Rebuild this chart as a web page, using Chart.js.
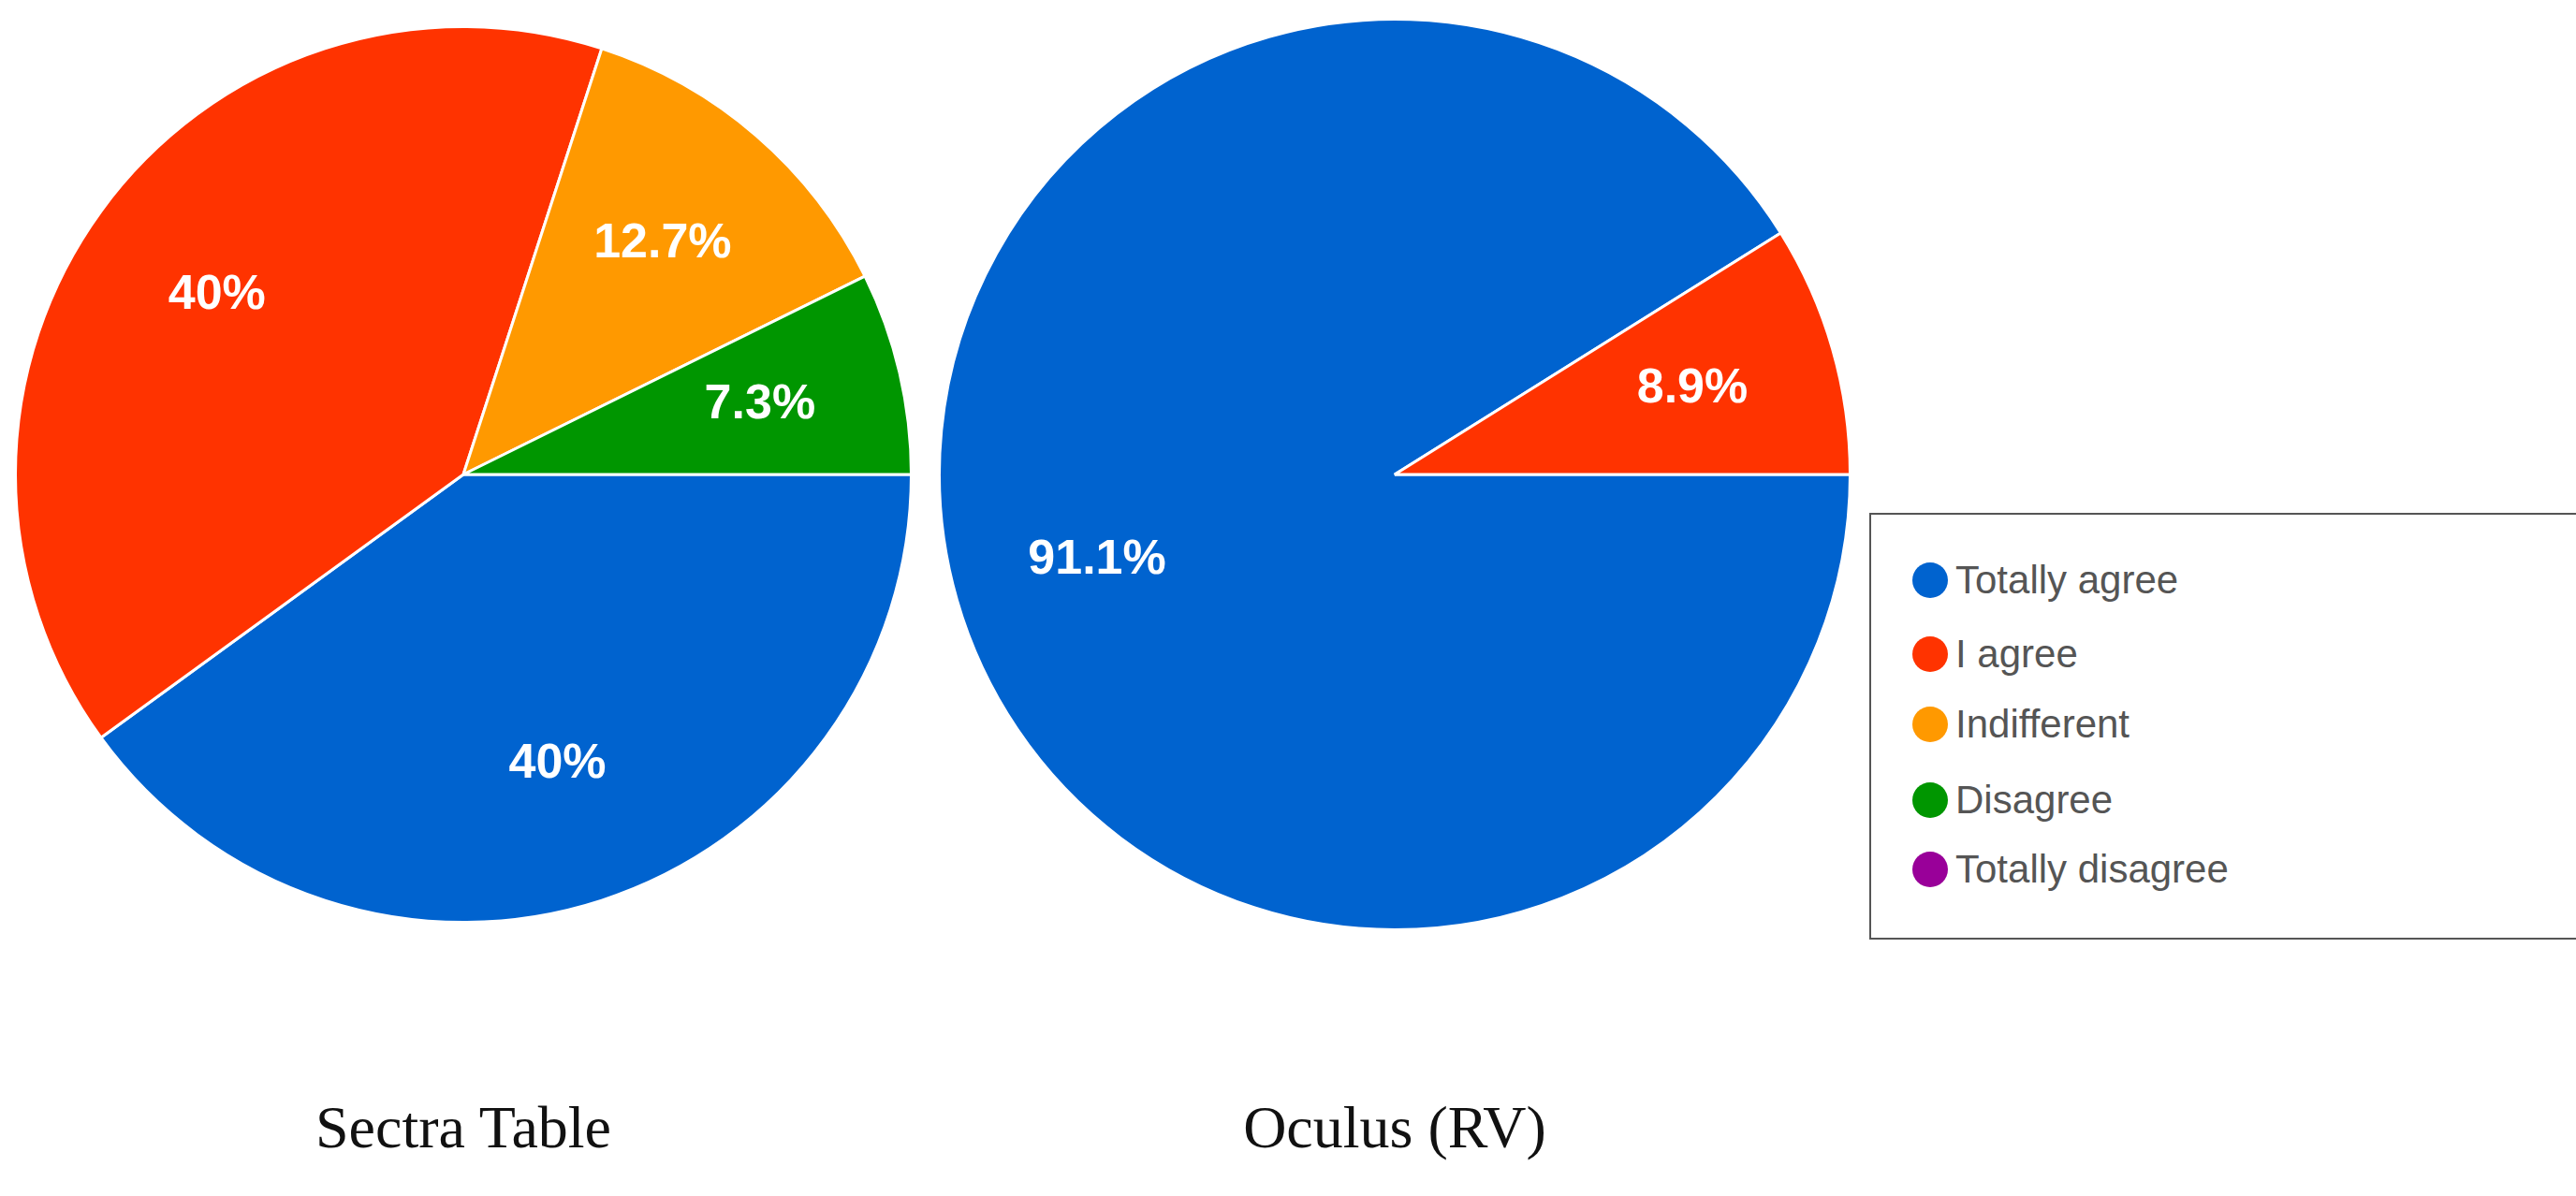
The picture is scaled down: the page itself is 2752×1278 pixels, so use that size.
<!DOCTYPE html>
<html><head><meta charset="utf-8">
<script src="https://cdn.jsdelivr.net/npm/chart.js@4"></script>
<style>
body{margin:0;width:2752px;height:1278px;background:#fff;position:relative;overflow:hidden;font-family:"Liberation Sans",Arial,sans-serif}
.pw{position:absolute}
.cap{position:absolute;top:1168px;font-family:"Liberation Serif","DejaVu Serif",serif;font-size:64px;color:#111;transform:translateX(-50%);white-space:nowrap}
#legend{position:absolute;left:1997px;top:548px;width:760px;height:456px;border:2px solid #555;box-sizing:border-box}
.li{position:absolute;left:44px;font-size:42px;color:#555;display:flex;align-items:center}
.dot{width:38px;height:38px;border-radius:50%;margin-right:8px}
</style></head><body>
<div class="pw" style="left:15px;top:27px;width:960px;height:960px"><canvas id="c1"></canvas></div>
<div class="pw" style="left:1002px;top:19px;width:976px;height:976px"><canvas id="c2"></canvas></div>
<div class="cap" style="left:495px">Sectra Table</div>
<div class="cap" style="left:1490px">Oculus (RV)</div>
<div id="legend"></div>
<script>
const categories=["Totally agree","I agree","Indifferent","Disagree","Totally disagree"];
const colors=["#0063CF","#FF3300","#FF9900","#009600","#990099"];
const sectraValues=[40,40,12.7,7.3,0];
const oculusValues=[91.1,8.9,0,0,0];

const lg=document.getElementById('legend');
const ys=[70,149,224,305,379];
categories.forEach((c,i)=>{const d=document.createElement('div');d.className='li';d.style.top=(ys[i]-24)+'px';
d.innerHTML='<span class="dot" style="background:'+colors[i]+'"></span>'+c;lg.appendChild(d);});

const labelPlugin={id:'lbl',afterDatasetsDraw(chart){const ctx=chart.ctx;const meta=chart.getDatasetMeta(0);
ctx.save();ctx.fillStyle='#fff';ctx.font='bold 52px "Liberation Sans", Arial, sans-serif';ctx.textAlign='center';ctx.textBaseline='middle';
meta.data.forEach((a,i)=>{const v=chart.data.datasets[0].data[i];if(!v)return;
const p=a.getProps(['x','y','startAngle','endAngle','outerRadius']);const m=(p.startAngle+p.endAngle)/2;const r=p.outerRadius*0.68;
ctx.fillText(v+'%',p.x+Math.cos(m)*r,p.y+Math.sin(m)*r);});ctx.restore();}};

function mk(id,vals){new Chart(document.getElementById(id),{type:'pie',
data:{labels:categories,datasets:[{data:vals,backgroundColor:colors,borderColor:'#fff',borderWidth:3}]},
options:{responsive:true,maintainAspectRatio:false,animation:false,rotation:90,layout:{padding:0},
plugins:{legend:{display:false},tooltip:{enabled:false}}},plugins:[labelPlugin]});}
mk('c1',sectraValues);mk('c2',oculusValues);
</script></body></html>
